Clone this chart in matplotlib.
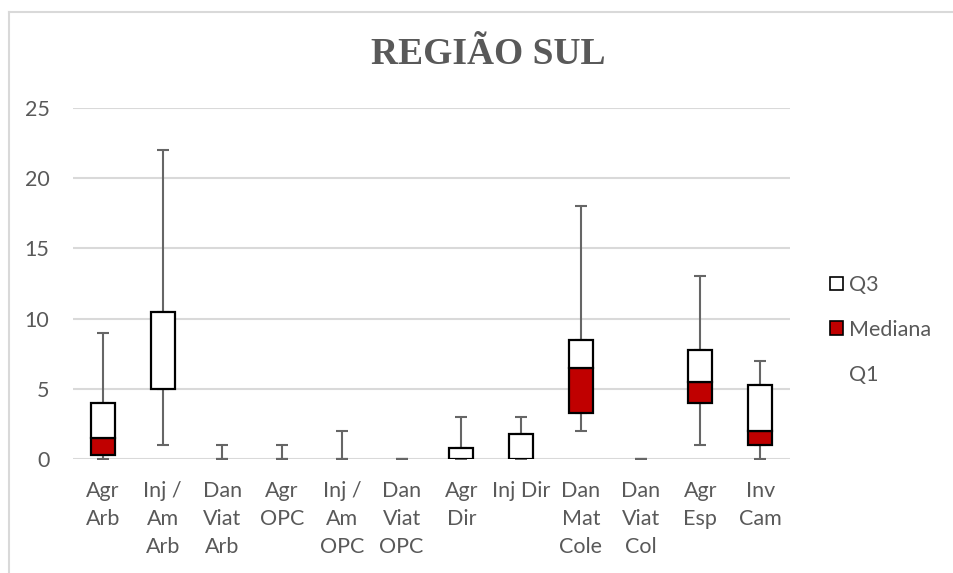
import numpy as np
import matplotlib
matplotlib.use('Agg')
import matplotlib.pyplot as plt
import matplotlib.patches as patches
from matplotlib.lines import Line2D

# categories and box-plot stats
categories = ['Agr\nArb', 'Inj /\nAm\nArb', 'Dan\nViat\nArb', 'Agr\nOPC', 'Inj /\nAm\nOPC',
              'Dan\nViat\nOPC', 'Agr\nDir', 'Inj Dir', 'Dan\nMat\nCole', 'Dan\nViat\nCol',
              'Agr\nEsp', 'Inv\nCam']
minimo = [0, 1, 0, 0, 0, 0, 0, 0, 2, 0, 1, 0]
q1 = [0.25, 5, 0, 0, 0, 0, 0, 0, 3.25, 0, 4, 1]
mediana = [1.5, 5, 0, 0, 0, 0, 0, 0, 6.5, 0, 5.5, 2]
q3 = [4, 10.5, 0, 0, 0, 0, 0.75, 1.75, 8.5, 0, 7.75, 5.25]
maximo = [9, 22, 1, 1, 2, 0, 3, 3, 18, 0, 13, 7]

grey = '#595959'
fs = 15.5
plt.rcParams['font.family'] = ['Lato', 'DejaVu Sans']

q1 = np.array(q1)
med = np.array(mediana)
q3 = np.array(q3)
lo = np.array(minimo)
hi = np.array(maximo)
x = np.arange(len(categories))

fig = plt.figure(figsize=(9.54, 5.73), dpi=100)
ax = fig.add_axes([73/954, 1-459/573, (790-73)/954, (459-108)/573])

# whiskers (behind boxes)
ax.errorbar(x, q3, yerr=[np.zeros_like(q3), hi-q3], fmt='none', ecolor='#666666',
            elinewidth=1.5, capsize=4.5, capthick=1.5, zorder=2)
ax.errorbar(x, q1, yerr=[q1-lo, np.zeros_like(q1)], fmt='none', ecolor='#666666',
            elinewidth=1.5, capsize=4.5, capthick=1.5, zorder=2)

h_med = med - q1
h_q3 = q3 - med
ax.bar(x, q1, width=0.4, color='none', linewidth=0, zorder=3)
ax.bar(x, h_med, bottom=q1, width=0.4, color='#c00000', edgecolor='black',
       linewidth=np.where(h_med > 0, 1.6, 0), zorder=3)
ax.bar(x, h_q3, bottom=med, width=0.4, color='white', edgecolor='black',
       linewidth=np.where(h_q3 > 0, 1.6, 0), zorder=3)

ax.set_xlim(-0.5, len(categories)-0.5)
ax.set_ylim(0, 25)
ax.set_yticks(np.arange(0, 26, 5))
ax.yaxis.grid(True, color='#d9d9d9', linewidth=1.5, zorder=0)
ax.set_axisbelow(True)
for s in ax.spines.values():
    s.set_visible(False)
ax.tick_params(axis='both', length=0, colors=grey, labelsize=fs)
ax.tick_params(axis='y', pad=17)
ax.tick_params(axis='x', pad=16)
ax.set_xticks(x)
ax.set_xticklabels(categories, linespacing=1.5, va='top')

fig.text(488/954, 1-55/573, 'REGIÃO SUL', family='Liberation Serif', weight='bold',
         fontsize=27, color=grey, ha='center', va='center')

handles = [patches.Patch(facecolor='white', edgecolor='black', linewidth=1.2),
           patches.Patch(facecolor='#c00000', edgecolor='black', linewidth=1.2),
           patches.Patch(facecolor='none', edgecolor='none')]
leg = fig.legend(handles, ['Q3', 'Mediana', 'Q1'], loc='upper left',
                 bbox_to_anchor=(830/954, 1-275/573), frameon=False, fontsize=fs,
                 handlelength=0.6, handleheight=0.6, handletextpad=0.3,
                 labelspacing=1.15, borderaxespad=0, borderpad=0)
for t in leg.get_texts():
    t.set_color(grey)

# chart area border
fig.add_artist(Line2D([9/954, 9/954], [0, 1-12/573], color='#d9d9d9', lw=1.5))
fig.add_artist(Line2D([9/954, 1], [1-12/573, 1-12/573], color='#d9d9d9', lw=1.5))

fig.savefig('out.png', dpi=100)
